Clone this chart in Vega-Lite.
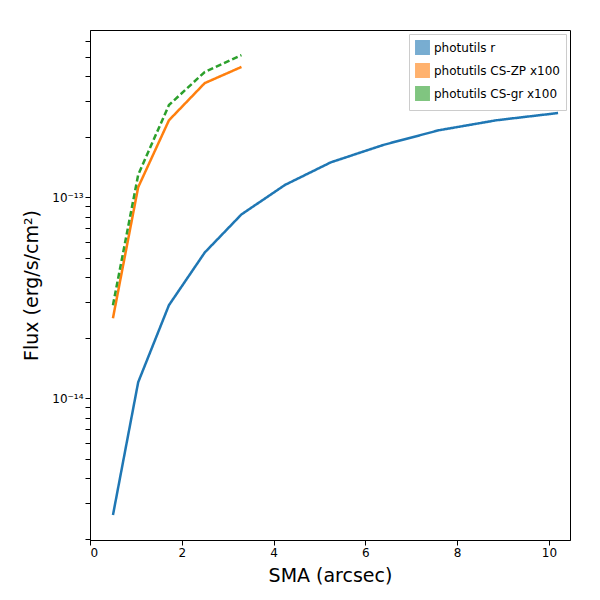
{
"$schema":"https://vega.github.io/schema/vega-lite/v6.json",
"autosize":"none","width":480,"height":510,
"padding":{"left":90,"top":30,"right":30,"bottom":60},
"config":{"font":"DejaVu Sans","view":{"stroke":"black"},"axis":{"grid":false,"domainColor":"black","tickColor":"black","labelColor":"black","titleColor":"black","labelFontSize":12,"titleFontSize":19,"titleFontWeight":"normal"}},
"data":{"values":[
{"s":"photutils r","x":0.5,"y":2.62e-15},{"s":"photutils r","x":1.05,"y":1.2e-14},{"s":"photutils r","x":1.72,"y":2.9e-14},{"s":"photutils r","x":2.5,"y":5.3e-14},{"s":"photutils r","x":3.3,"y":8.2e-14},{"s":"photutils r","x":4.25,"y":1.15e-13},{"s":"photutils r","x":5.25,"y":1.49e-13},{"s":"photutils r","x":6.4,"y":1.82e-13},{"s":"photutils r","x":7.6,"y":2.15e-13},{"s":"photutils r","x":8.85,"y":2.41e-13},{"s":"photutils r","x":10.2,"y":2.62e-13},
{"s":"photutils CS-ZP x100","x":0.5,"y":2.5e-14},{"s":"photutils CS-ZP x100","x":1.05,"y":1.12e-13},{"s":"photutils CS-ZP x100","x":1.72,"y":2.41e-13},{"s":"photutils CS-ZP x100","x":2.5,"y":3.69e-13},{"s":"photutils CS-ZP x100","x":3.3,"y":4.44e-13},
{"s":"photutils CS-gr x100","x":0.5,"y":2.9e-14},{"s":"photutils CS-gr x100","x":1.05,"y":1.29e-13},{"s":"photutils CS-gr x100","x":1.72,"y":2.87e-13},{"s":"photutils CS-gr x100","x":2.5,"y":4.19e-13},{"s":"photutils CS-gr x100","x":3.3,"y":5.09e-13}
]},
"mark":{"type":"line","strokeWidth":2.5,"clip":true},
"encoding":{
"x":{"field":"x","type":"quantitative","title":"SMA (arcsec)","scale":{"domain":[0,10.46],"nice":false,"zero":false},"axis":{"values":[0,2,4,6,8,10],"titlePadding":8}},
"y":{"field":"y","type":"quantitative","title":"Flux (erg/s/cm²)","scale":{"type":"log","domain":[1.97e-15,6.78e-13],"nice":false},"axis":{"values":[2e-15,3e-15,4e-15,5e-15,6e-15,7e-15,8e-15,9e-15,1e-14,2e-14,3e-14,4e-14,5e-14,6e-14,7e-14,8e-14,9e-14,1e-13,2e-13,3e-13,4e-13,5e-13,6e-13],"labelExpr":"datum.value==1e-14?'10⁻¹⁴':(datum.value==1e-13?'10⁻¹³':'')","titlePadding":10}},
"color":{"field":"s","type":"nominal","sort":["photutils r","photutils CS-ZP x100","photutils CS-gr x100"],"scale":{"range":["#1f77b4","#ff7f0e","#2ca02c"]},"legend":{"title":null,"orient":"top-right","offset":4,"symbolType":"square","symbolSize":180,"symbolOpacity":0.6,"labelFontSize":12,"fillColor":"white","strokeColor":"#ccc","padding":6,"encode":{"symbols":{"update":{"fill":{"scale":"color","field":"value"},"stroke":{"scale":"color","field":"value"}}}}}},
"strokeDash":{"field":"s","type":"nominal","sort":["photutils r","photutils CS-ZP x100","photutils CS-gr x100"],"scale":{"range":[[1,0],[1,0],[6,3]]},"legend":null}
}
}
